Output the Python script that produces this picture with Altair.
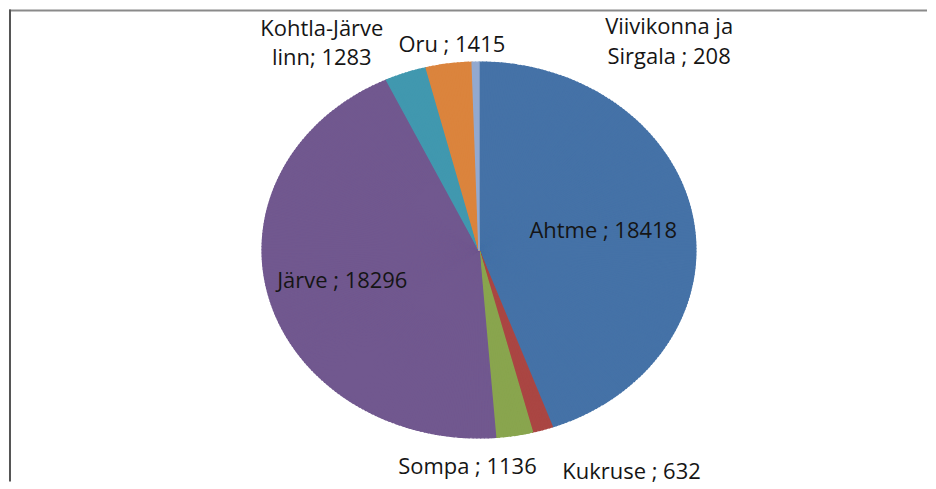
import math
import altair as alt
import pandas as pd

# ---- data ----
categories = ["Ahtme", "Kukruse", "Sompa", "Järve", "Kohtla-Järve linn", "Oru", "Viivikonna ja Sirgala"]
values = [18418, 632, 1136, 18296, 1283, 1415, 208]
label_texts = ["Ahtme ; 18418", "Kukruse ; 632", "Sompa ; 1136", "Järve ; 18296",
               "Kohtla-Järve\nlinn; 1283", "Oru ; 1415", "Viivikonna ja\nSirgala ; 208"]
colors = ["#4572A7", "#AA4643", "#89A54E", "#71588F", "#4198AF", "#DB843D", "#93A9CF"]

# ---- layout (pixels, view coordinates) ----
W, H = 920, 473
CX, CY = 479 - 8, 249 - 8      # pie centre
A, B = 218, 189                # horizontal / vertical semi-axes of the elliptic pie
SW = 1.4                       # stroke used to hide seams between thin wedges
# label placement: fraction of edge radius, then nudge
label_layout = {
    "Ahtme": (0.58, 0, 0),
    "Kukruse": (1.0, 89, 42),
    "Sompa": (1.0, -47, 31),
    "Järve": (0.65, 0, 0),
    "Kohtla-Järve linn": (1.0, -84, -44),
    "Oru": (1.0, 3, -18),
    "Viivikonna ja Sirgala": (1.0, 194, -34),
}
FONT = "Open Sans"

total = sum(values)

# split every slice into thin wedges so the pie can follow an ellipse
rows = []
o = 0
for c, v in zip(categories, values):
    n = max(2, math.ceil(v / total * 360))
    for _ in range(n):
        rows.append({"cat": c, "v": v / n, "o": o})
        o += 1
pieces = pd.DataFrame(rows)

lab = pd.DataFrame({
    "cat": categories,
    "v": values,
    "label": label_texts,
    "o": list(range(len(categories))),
    "k": [label_layout[c][0] for c in categories],
    "ddx": [label_layout[c][1] for c in categories],
    "ddy": [label_layout[c][2] for c in categories],
})


def polar(phi):
    return f"(atan2({A}*sin({phi}), {B}*cos({phi})) + 2*PI) % (2*PI)"


color_scale = alt.Scale(domain=categories, range=colors)

wedges = (
    alt.Chart(pieces)
    .transform_window(cum="sum(v)", sort=[alt.SortField("o")], frame=[None, 0])
    .transform_joinaggregate(total="sum(v)")
    .transform_calculate(
        phi0="2*PI*(datum.cum - datum.v)/datum.total",
        phi1="2*PI*datum.cum/datum.total",
    )
    .transform_calculate(phim="(datum.phi0 + datum.phi1)/2")
    .transform_calculate(
        t0=polar("datum.phi0"),
        t1=f"datum.phi1 > 2*PI - 1e-6 ? 2*PI : {polar('datum.phi1')}",
        r=f"sqrt(pow({A}*sin(datum.phim),2) + pow({B}*cos(datum.phim),2)) - {SW / 2}",
    )
    .mark_arc(strokeWidth=SW, strokeJoin="round")
    .encode(
        theta=alt.Theta("t0:Q", scale=None),
        theta2="t1:Q",
        radius=alt.Radius("r:Q", scale=None),
        color=alt.Color("cat:N", scale=color_scale, legend=None),
        stroke=alt.Stroke("cat:N", scale=color_scale, legend=None),
        x=alt.value(CX),
        y=alt.value(CY),
    )
)

labels = (
    alt.Chart(lab)
    .transform_window(cum="sum(v)", sort=[alt.SortField("o")], frame=[None, 0])
    .transform_joinaggregate(total="sum(v)")
    .transform_calculate(phim="2*PI*(datum.cum - datum.v/2)/datum.total")
    .transform_calculate(
        lx=f"{CX} + datum.k*{A}*sin(datum.phim) + datum.ddx",
        ly=f"{CY} - datum.k*{B}*cos(datum.phim) + datum.ddy",
    )
    .mark_text(align="center", baseline="middle", lineBreak="\n", lineHeight=30,
               font=FONT, fontSize=22, color="#151515")
    .encode(
        x=alt.X("lx:Q", scale=None, axis=None),
        y=alt.Y("ly:Q", scale=None, axis=None),
        text="label:N",
    )
)

top_border = alt.Chart(pd.DataFrame({"a": [0]})).mark_rule(color="#8A8A8A", strokeWidth=2).encode(
    x=alt.value(0), x2=alt.value(W), y=alt.value(1)
)
left_border = alt.Chart(pd.DataFrame({"a": [0]})).mark_rule(color="#555555", strokeWidth=2).encode(
    x=alt.value(1), y=alt.value(0), y2=alt.value(H)
)

chart = (
    alt.layer(wedges, labels, top_border, left_border)
    .properties(width=W, height=H, padding=0, background="white")
    .configure_view(stroke=None)
)

chart.save("out.html", embed_options={"renderer": "svg", "actions": False})
